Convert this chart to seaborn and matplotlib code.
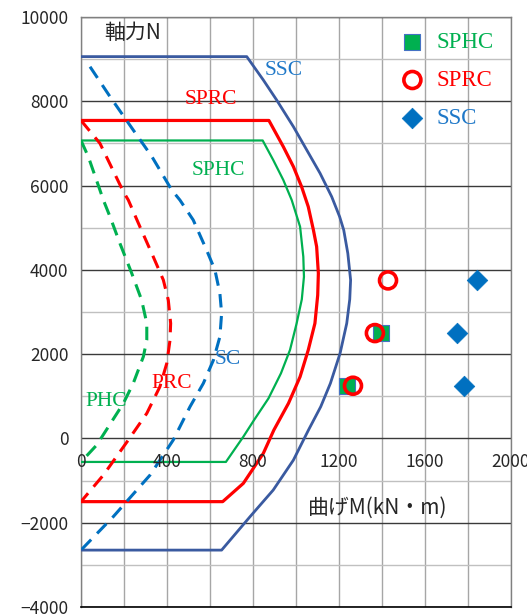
import numpy as np
import matplotlib
matplotlib.use("Agg")
import matplotlib.pyplot as plt
import seaborn as sns

# ── data ────────────────────────────────────────────────────────────────────
# solid envelopes (M, N)
ssc_m = [0, 771, 848, 910, 988, 1050, 1112, 1166, 1203, 1222, 1241, 1254, 1250,
         1236, 1205, 1160, 1115, 1058, 988, 894, 786, 654, 0]
ssc_n = [9060, 9060, 8505, 8030, 7397, 6844, 6291, 5736, 5261, 4945, 4392, 3759,
         3300, 2731, 2019, 1307, 753, 199, -513, -1225, -1858, -2650, -2650]

sprc_m = [0, 874, 941, 988, 1026, 1057, 1081, 1096, 1104, 1101, 1088, 1057,
          1019, 965, 897, 848, 755, 659, 0]
sprc_n = [7545, 7545, 6922, 6448, 5973, 5499, 4945, 4550, 3918, 3400, 2731, 2098,
          1464, 833, 199, -354, -1066, -1500, -1500]

sphc_m = [0, 845, 894, 941, 980, 1019, 1034, 1037, 1027, 1003, 972, 930,
          872, 805, 755, 674, 0]
sphc_n = [7070, 7070, 6607, 6132, 5657, 5024, 4312, 3837, 3300, 2731, 2098, 1545,
          950, 437, 40, -558, -558]

# dashed inner curves
sc_m = [42, 135, 243, 330, 422, 460, 522, 584, 623, 646, 654, 646, 616, 569,
        507, 429, 321, 150, 0]
sc_n = [8820, 8109, 7318, 6685, 5895, 5657, 5183, 4471, 3996, 3443, 2968, 2414,
        1860, 1307, 753, -38, -870, -1857, -2650]

prc_m = [0, 88, 197, 220, 274, 336, 383, 406, 417, 414, 399, 367, 306, 220,
         104, 0]
prc_n = [7545, 7003, 5854, 5657, 5024, 4312, 3759, 3284, 2731, 2335, 1782, 1228,
         595, -38, -870, -1500]

phc_m = [0, 34, 88, 104, 135, 181, 236, 282, 306, 306, 290, 243, 197, 73, 0]
phc_n = [7070, 6685, 5895, 5657, 5261, 4629, 3918, 3284, 2731, 2335, 1940, 1307,
         832, -157, -558]

# test points
sphc_pts_m = [1237, 1395]
sphc_pts_n = [1250, 2500]
sprc_pts_m = [1265, 1367, 1428]
sprc_pts_n = [1250, 2500, 3750]
ssc_pts_m = [1781, 1749, 1842]
ssc_pts_n = [1250, 2500, 3750]

x_tick_vals = [0, 400, 800, 1200, 1600, 2000]

C_SSC = "#3A5AA0"
C_SSC_LIGHT = "#0070C0"
C_SSC_TEXT = "#1F78C8"
C_RED = "#FF0000"
C_GREEN = "#00B050"

sns.set_style("white")
plt.rcParams["font.family"] = ["Noto Sans CJK JP", "DejaVu Sans"]
SERIF = "Liberation Serif"

fig, ax = plt.subplots(figsize=(5.27, 6.15), dpi=100)
fig.subplots_adjust(left=81 / 527, right=511 / 527, top=1 - 17 / 615, bottom=1 - 607 / 615)

ax.set_xlim(0, 2000)
ax.set_ylim(-4000, 10000)

# grid
ax.set_xticks(np.arange(0, 2001, 200))
ax.set_yticks(np.arange(-4000, 10001, 2000))
ax.set_yticks(np.arange(-4000, 10001, 1000), minor=True)
ax.grid(axis="x", which="major", color="#A6A6A6", lw=1.0)
ax.grid(axis="y", which="minor", color="#C0C0C0", lw=1.0)
ax.grid(axis="y", which="major", color="#3A3A3A", lw=1.0)
ax.set_axisbelow(True)
ax.tick_params(axis="x", which="both", length=0, labelbottom=False)
ax.tick_params(axis="y", which="major", length=6, color="#808080", labelsize=12.5, pad=3)
ax.tick_params(axis="y", which="minor", length=0)
ax.set_yticklabels([f"{v}".replace("-", "\u2212") for v in range(-4000, 10001, 2000)])
for side in ["left", "top", "right"]:
    ax.spines[side].set_color("#808080")
    ax.spines[side].set_linewidth(1.0)
ax.spines["bottom"].set_color("black")
ax.spines["bottom"].set_linewidth(1.2)

# solid envelopes
for m, n, c, lw in [(sphc_m, sphc_n, C_GREEN, 1.6), (sprc_m, sprc_n, C_RED, 2.3),
                    (ssc_m, ssc_n, C_SSC, 2.0)]:
    sns.lineplot(x=m, y=n, sort=False, estimator=None, color=c, lw=lw, ax=ax,
                 zorder=3)

# dashed curves
for m, n, c in [(phc_m, phc_n, C_GREEN), (prc_m, prc_n, C_RED), (sc_m, sc_n, C_SSC_LIGHT)]:
    sns.lineplot(x=m, y=n, sort=False, estimator=None, color=c, lw=2.2, ax=ax,
                 linestyle=(0, (4.4, 2.8)), zorder=3)

# points
sns.scatterplot(x=sphc_pts_m, y=sphc_pts_n, marker="s", s=130, color=C_GREEN,
                edgecolor="#4472C4", linewidth=0.8, ax=ax, label="SPHC", zorder=5)
sns.scatterplot(x=sprc_pts_m, y=sprc_pts_n, marker="o", s=150, facecolor="none",
                edgecolor=C_RED, linewidth=2.6, ax=ax, label="SPRC", zorder=6)
sns.scatterplot(x=ssc_pts_m, y=ssc_pts_n, marker="D", s=110, color=C_SSC_LIGHT,
                edgecolor=C_SSC_LIGHT, linewidth=0.5, ax=ax, label="SSC", zorder=5)

leg = ax.legend(loc="upper left", bbox_to_anchor=(0.744, 0.975), frameon=False,
                prop={"family": SERIF, "size": 16.5}, borderpad=0, borderaxespad=0,
                handlelength=1.0, handletextpad=0.55, labelspacing=0.75,
                scatterpoints=1, labelcolor=[C_GREEN, C_RED, C_SSC_TEXT])

# x tick labels drawn on the N = 0 line
for v in x_tick_vals:
    ax.text(v, -555, str(v), ha="center", va="center", fontsize=12.5, zorder=4)

# axis titles inside the plot
ax.text(242, 9620, "軸力N", ha="center", va="center", fontsize=15)
ax.text(1382, -1650, "曲げM(kN・m)", ha="center", va="center", fontsize=15)

# curve labels
lab = dict(family=SERIF, fontsize=15.5, va="center", ha="left", zorder=4)
ax.text(856, 8742, "SSC", color=C_SSC_TEXT, **lab)
ax.text(484, 8032, "SPRC", color=C_RED, **lab)
ax.text(516, 6366, "SPHC", color=C_GREEN, **lab)
ax.text(623, 1880, "SC", color=C_SSC_TEXT, **lab)
ax.text(329, 1315, "PRC", color=C_RED, **lab)
ax.text(19, 865, "PHC", color=C_GREEN, **lab)

ax.set_xlabel("")
ax.set_ylabel("")
fig.savefig("out.png", dpi=100)
